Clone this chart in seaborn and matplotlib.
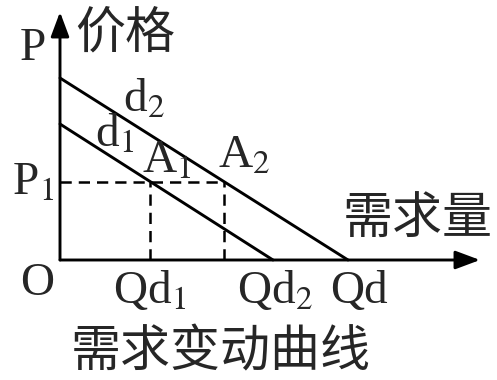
import matplotlib
matplotlib.use("Agg")
import matplotlib.pyplot as plt
import seaborn as sns

sns.set_theme(style="white")
plt.rcParams['font.family'] = ['Liberation Serif', 'Noto Sans CJK SC']
plt.rcParams['mathtext.fontset'] = 'stix'

# --- demand curves (quantity, price) ---
d1_q = [0, 213]
d1_p = [136, 0]
d2_q = [0, 288]
d2_p = [182, 0]

# equilibrium price level and quantities
p1 = 78
qd1 = 90
qd2 = 164

# axis lengths
x_max = 420
y_max = 248

fig = plt.figure(figsize=(4.97, 3.80), dpi=100)
ax = fig.add_axes([0, 0, 1, 1])
ax.set_xlim(-60, 437)
ax.set_ylim(-120, 260)
ax.axis('off')

lw = 2.1
sns.lineplot(x=d1_q, y=d1_p, ax=ax, color='black', lw=lw, sort=False, estimator=None)
sns.lineplot(x=d2_q, y=d2_p, ax=ax, color='black', lw=lw, sort=False, estimator=None)

# dashed guide lines
dash = dict(color='black', lw=1.8, dashes=(4.5, 2.8))
ax.plot([0, qd2], [p1, p1], **dash)
ax.plot([qd1, qd1], [0, p1], **dash)
ax.plot([qd2, qd2], [0, p1], **dash)

# axes with arrows
arrow = dict(arrowstyle='-|>,head_length=0.75,head_width=0.28', lw=lw,
             color='black', shrinkA=0, shrinkB=0, mutation_scale=20)
ax.annotate('', xy=(x_max, 0), xytext=(0, 0), arrowprops=arrow)
ax.annotate('', xy=(0, y_max), xytext=(0, 0), arrowprops=arrow)

fs = 34
fs_cn = 36
ax.text(-40, 200, 'P', fontsize=fs, ha='left', va='baseline')
ax.text(65, 225, '价格', fontsize=fs_cn, ha='center', va='center')
ax.text(63, 148, 'd$_2$', fontsize=fs, ha='left', va='baseline')
ax.text(35, 113, 'd$_1$', fontsize=fs, ha='left', va='baseline')
ax.text(82, 87, 'A$_1$', fontsize=fs, ha='left', va='baseline')
ax.text(158, 92, 'A$_2$', fontsize=fs, ha='left', va='baseline')
ax.text(-48, 65, 'P$_1$', fontsize=fs, ha='left', va='baseline')
ax.text(-40, -35, 'O', fontsize=fs, ha='left', va='baseline')
ax.text(53, -43, 'Qd$_1$', fontsize=fs, ha='left', va='baseline')
ax.text(177, -43, 'Qd$_2$', fontsize=fs, ha='left', va='baseline')
ax.text(270, -43, 'Qd', fontsize=fs, ha='left', va='baseline')
ax.text(358, 38, '需求量', fontsize=fs_cn, ha='center', va='center')
ax.text(161, -94, '需求变动曲线', fontsize=fs_cn, ha='center', va='center')

fig.savefig('out.png', dpi=100)
